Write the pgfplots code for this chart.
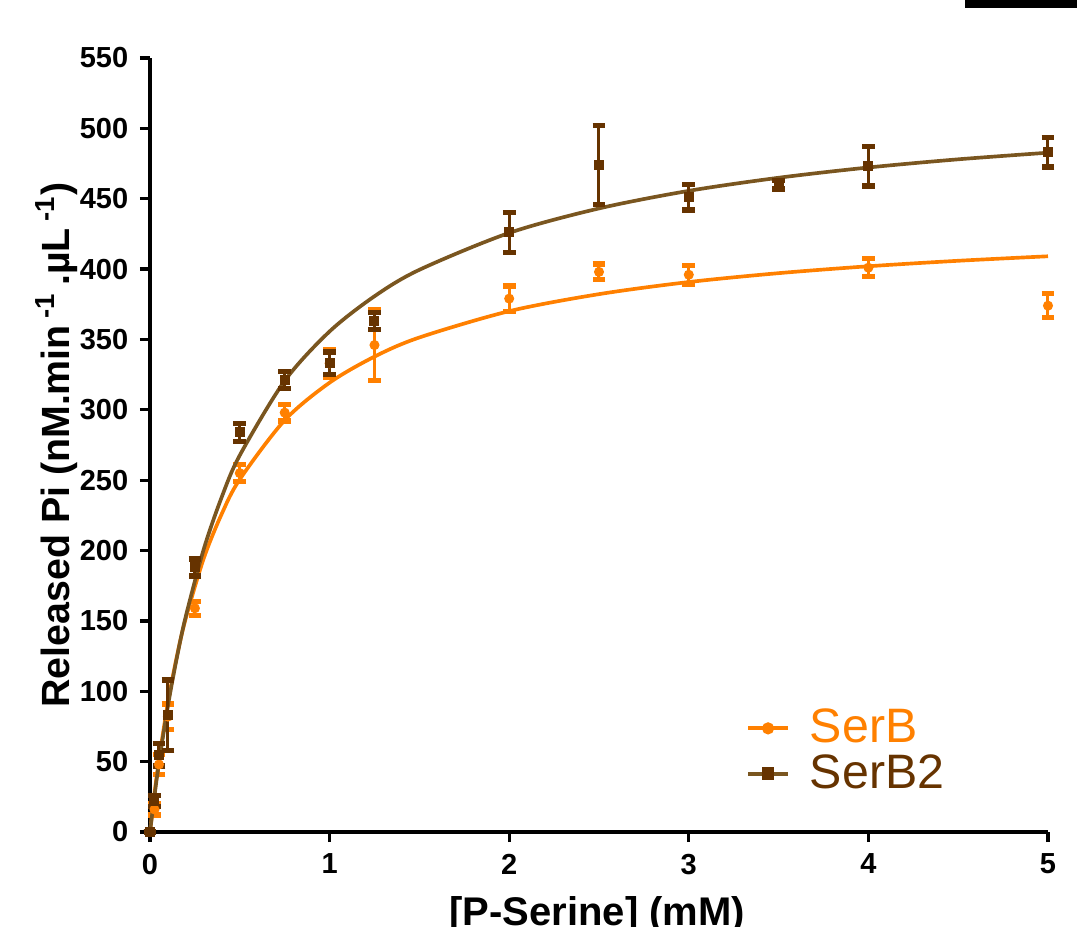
\documentclass[border=0pt]{standalone}
\usepackage{fontspec}
\setmainfont{Liberation Sans}
\usepackage{pgfplots}
\pgfplotsset{compat=1.18}
\definecolor{serbor}{RGB}{255,128,0}
\definecolor{serbtwo}{RGB}{102,51,0}
\definecolor{serbtwofit}{RGB}{122,86,32}

\begin{document}
\begin{tikzpicture}
\begin{axis}[
  at={(0,0)}, anchor=south west,
  scale only axis, width=269.4pt, height=232.2pt,
  xmin=0, xmax=5, ymin=0, ymax=550,
  axis lines*=left, axis line style={-, line width=1.2pt},
  tick align=outside, major tick length=3pt, tick style={line width=1pt, black},
  xtick={0,...,5}, ytick={0,50,...,550},
  /pgf/number format/assume math mode=true,
  ticklabel style={font=\fontsize{8.7}{10}\selectfont\bfseries},
  clip=false,
  xlabel={\bfseries [P-Serine] (mM)},
  xlabel style={font=\fontsize{12}{14}\selectfont, at={(axis description cs:0.498,-0.107)}, anchor=center},
  ylabel={\bfseries Released Pi (nM.min\,\textsuperscript{-1}\,.µL\,\textsuperscript{-1})},
  ylabel style={font=\fontsize{11.8}{14}\selectfont, at={(axis description cs:-0.104,0.5)}, anchor=center},
  legend style={draw=none, fill=none, at={(axis description cs:0.652,0.177)}, anchor=north west,
    font=\fontsize{14.5}{15}\selectfont, row sep=-2pt, cells={anchor=west},
    /tikz/every odd column/.append style={column sep=4pt}},
  legend image code/.code={\draw[mark repeat=2,mark phase=2] plot coordinates {(0cm,0cm) (0.21cm,0cm) (0.42cm,0cm)};},
]
\addlegendimage{serbor, line width=1.2pt, mark=*, mark size=1.2pt}
\addlegendentry{\textcolor{serbor}{SerB}}
\addlegendimage{serbtwofit, line width=1.2pt, mark=square*, mark size=1.3pt, mark options={serbtwo}}
\addlegendentry{\textcolor{serbtwo}{SerB2}}

% SerB fitted curve
\addplot[serbor, line width=1.1pt, smooth, forget plot] coordinates {
(0,0) (0.025,27.3) (0.05,51.4) (0.1,92.1) (0.15,125) (0.2,152.2) (0.3,194.7) (0.4,226.2)
(0.5,250.6) (0.75,292.6) (1,319.3) (1.25,337.8) (1.5,351.4) (2,370.1) (2.5,382.2)
(3,390.8) (3.5,397.1) (4,402.0) (4.5,405.9) (5,409.1)};

% SerB data
\addplot[serbor, only marks, mark=*, mark size=1.3pt, forget plot,
  error bars/.cd, y dir=both, y explicit,
  error bar style={line width=0.9pt, serbor},
  error mark options={rotate=90, mark size=1.9pt, line width=1.6pt, serbor}]
  table[x=x, y=y, y error=e] {
x y e
0 0 0
0.025 16 4
0.05 48 7
0.1 82 9
0.25 159 5
0.5 255 6
0.75 298 6
1 333 10
1.25 346 25
2 379 9
2.5 398 5.5
3 396 6.5
4 401 6.5
5 374 8.5
};

% SerB2 fitted curve
\addplot[serbtwofit, line width=1.1pt, smooth, forget plot] coordinates {
(0,0) (0.025,25.7) (0.05,49.1) (0.1,89.8) (0.15,124.2) (0.2,153.6) (0.3,201.3) (0.4,238.2)
(0.5,267.7) (0.75,320.6) (1,355.7) (1.25,380.7) (1.5,399.5) (2,425.7) (2.5,443.1)
(3,455.6) (3.5,464.9) (4,472.2) (4.5,478.0) (5,482.7)};

% SerB2 data
\addplot[serbtwo, only marks, mark=square*, mark size=1.3pt, forget plot,
  error bars/.cd, y dir=both, y explicit,
  error bar style={line width=0.9pt, serbtwo},
  error mark options={rotate=90, mark size=1.9pt, line width=1.6pt, serbtwo}]
  table[x=x, y=y, y error=e] {
x y e
0 0 0
0.025 22 4
0.05 55 8
0.1 83 25
0.25 188 6
0.5 284 6.5
0.75 321 6
1 333 8
1.25 363 6
2 426 14
2.5 474 28
3 451 9
3.5 460 3
4 473 14
5 483 10.5
};
\end{axis}
\fill[black] (244.5pt,247.2pt) rectangle (280pt,252pt);
\pgfresetboundingbox
\path[use as bounding box] (-45pt,-28.2pt) rectangle (278.1pt,249.6pt);
\end{tikzpicture}
\end{document}
